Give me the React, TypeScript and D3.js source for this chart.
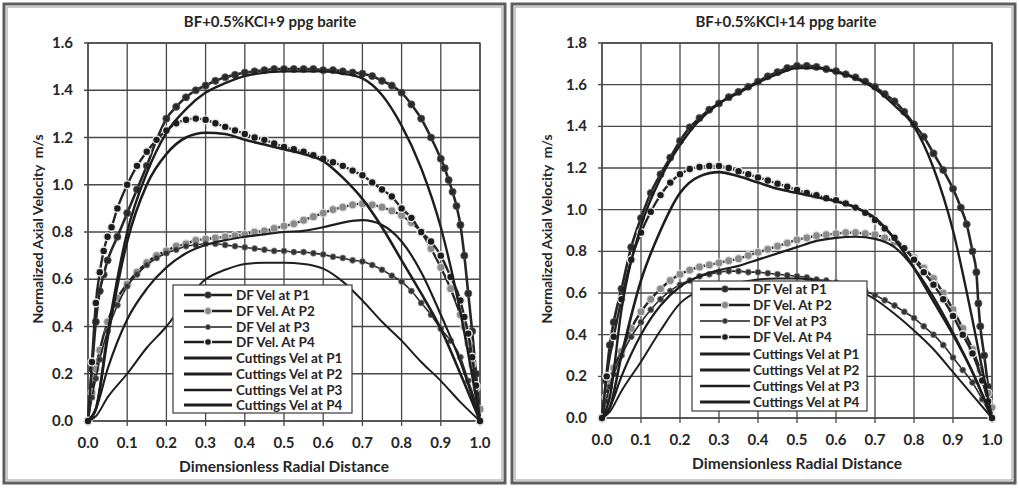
import React from "react";
import * as d3 from "d3";

type P = [number, number];

const X_TICKS = [0, 0.1, 0.2, 0.3, 0.4, 0.5, 0.6, 0.7, 0.8, 0.9, 1.0];
const Y_TICKS_LEFT = [0, 0.2, 0.4, 0.6, 0.8, 1.0, 1.2, 1.4, 1.6];
const Y_TICKS_RIGHT = [0, 0.2, 0.4, 0.6, 0.8, 1.0, 1.2, 1.4, 1.6, 1.8];

const TITLES = ["BF+0.5%KCl+9 ppg barite", "BF+0.5%KCl+14 ppg barite"];
const X_LABEL = "Dimensionless Radial Distance";
const Y_LABEL = "Normalized Axial Velocity\u00A0\u00A0m/s";
const LEGEND = [
  "DF Vel at P1", "DF Vel. At P2", "DF Vel at P3", "DF Vel. At P4",
  "Cuttings Vel at P1", "Cuttings Vel at P2", "Cuttings Vel at P3", "Cuttings Vel at P4",
];

// ---------- Left panel (9 ppg) ----------
const L_DF1: P[] = [[0,0],[0.01,0.22],[0.02,0.42],[0.03,0.55],[0.04,0.62],[0.05,0.68],[0.075,0.78],[0.1,0.88],[0.125,0.98],[0.15,1.08],[0.175,1.19],[0.2,1.28],[0.225,1.33],[0.25,1.37],[0.275,1.4],[0.3,1.42],[0.325,1.44],[0.35,1.455],[0.375,1.465],[0.4,1.475],[0.425,1.48],[0.45,1.485],[0.475,1.49],[0.5,1.49],[0.525,1.49],[0.55,1.49],[0.575,1.49],[0.6,1.485],[0.625,1.485],[0.65,1.48],[0.675,1.475],[0.7,1.47],[0.725,1.46],[0.75,1.44],[0.775,1.42],[0.8,1.39],[0.825,1.34],[0.85,1.28],[0.875,1.2],[0.9,1.11],[0.91,1.07],[0.92,1.02],[0.93,0.97],[0.94,0.91],[0.95,0.83],[0.96,0.7],[0.97,0.54],[0.98,0.38],[0.99,0.2],[1.0,0]];
const L_DF2: P[] = [[0,0],[0.01,0.12],[0.02,0.22],[0.03,0.3],[0.05,0.42],[0.075,0.52],[0.1,0.58],[0.125,0.63],[0.15,0.67],[0.175,0.7],[0.2,0.72],[0.225,0.74],[0.25,0.75],[0.275,0.765],[0.3,0.77],[0.325,0.775],[0.35,0.78],[0.375,0.785],[0.4,0.79],[0.425,0.8],[0.45,0.805],[0.475,0.815],[0.5,0.825],[0.525,0.835],[0.55,0.85],[0.575,0.865],[0.6,0.88],[0.625,0.895],[0.65,0.905],[0.675,0.915],[0.7,0.92],[0.725,0.915],[0.75,0.905],[0.775,0.89],[0.8,0.87],[0.825,0.84],[0.85,0.8],[0.875,0.73],[0.9,0.65],[0.925,0.56],[0.95,0.45],[0.96,0.4],[0.97,0.33],[0.98,0.24],[0.99,0.14],[1.0,0.05]];
const L_DF3: P[] = [[0,0],[0.01,0.1],[0.02,0.18],[0.03,0.26],[0.05,0.38],[0.075,0.49],[0.1,0.57],[0.125,0.62],[0.15,0.66],[0.175,0.69],[0.2,0.71],[0.225,0.725],[0.25,0.74],[0.275,0.745],[0.3,0.75],[0.325,0.75],[0.35,0.745],[0.375,0.74],[0.4,0.735],[0.425,0.73],[0.45,0.725],[0.475,0.72],[0.5,0.72],[0.525,0.715],[0.55,0.715],[0.575,0.71],[0.6,0.705],[0.625,0.695],[0.65,0.69],[0.675,0.68],[0.7,0.675],[0.725,0.66],[0.75,0.64],[0.775,0.615],[0.8,0.59],[0.825,0.55],[0.85,0.5],[0.875,0.45],[0.9,0.39],[0.925,0.34],[0.95,0.27],[0.97,0.17],[0.99,0.07],[1.0,0]];
const L_DF4: P[] = [[0,0],[0.01,0.25],[0.02,0.5],[0.03,0.63],[0.04,0.72],[0.05,0.78],[0.06,0.82],[0.075,0.9],[0.1,1.0],[0.125,1.08],[0.15,1.14],[0.175,1.19],[0.2,1.23],[0.225,1.26],[0.25,1.275],[0.275,1.28],[0.3,1.275],[0.325,1.26],[0.35,1.245],[0.375,1.23],[0.4,1.215],[0.425,1.2],[0.45,1.19],[0.475,1.175],[0.5,1.16],[0.525,1.15],[0.55,1.14],[0.575,1.125],[0.6,1.11],[0.625,1.095],[0.65,1.08],[0.675,1.06],[0.7,1.04],[0.725,1.01],[0.75,0.98],[0.775,0.95],[0.8,0.9],[0.825,0.86],[0.85,0.8],[0.875,0.76],[0.9,0.7],[0.925,0.61],[0.95,0.51],[0.96,0.44],[0.97,0.37],[0.98,0.27],[0.99,0.15],[1.0,0]];
const L_C1: P[] = [[0,0],[0.02,0.05],[0.05,0.37],[0.1,0.8],[0.15,1.05],[0.2,1.22],[0.25,1.32],[0.3,1.39],[0.35,1.43],[0.4,1.46],[0.5,1.48],[0.6,1.48],[0.65,1.47],[0.7,1.45],[0.75,1.38],[0.8,1.25],[0.85,1.07],[0.9,0.82],[0.95,0.46],[1.0,0]];
const L_C2: P[] = [[0,0],[0.02,0.05],[0.05,0.22],[0.1,0.43],[0.15,0.56],[0.2,0.65],[0.25,0.71],[0.3,0.745],[0.35,0.765],[0.4,0.78],[0.45,0.79],[0.5,0.8],[0.55,0.805],[0.6,0.82],[0.65,0.84],[0.7,0.85],[0.75,0.83],[0.8,0.76],[0.85,0.63],[0.9,0.45],[0.95,0.25],[1.0,0]];
const L_C3: P[] = [[0,0],[0.02,0.02],[0.05,0.1],[0.1,0.2],[0.15,0.31],[0.2,0.4],[0.25,0.51],[0.3,0.6],[0.35,0.64],[0.4,0.665],[0.45,0.67],[0.5,0.67],[0.55,0.665],[0.6,0.645],[0.65,0.59],[0.7,0.51],[0.75,0.42],[0.8,0.34],[0.85,0.25],[0.9,0.17],[0.95,0.08],[1.0,0]];
const L_C4: P[] = [[0,0],[0.02,0.05],[0.05,0.35],[0.1,0.76],[0.15,1.0],[0.2,1.13],[0.25,1.2],[0.3,1.22],[0.35,1.215],[0.4,1.19],[0.45,1.17],[0.5,1.15],[0.55,1.13],[0.6,1.1],[0.65,1.03],[0.7,0.94],[0.75,0.82],[0.8,0.68],[0.85,0.54],[0.9,0.39],[0.95,0.2],[1.0,0]];

// ---------- Right panel (14 ppg) ----------
const R_DF1: P[] = [[0,0],[0.01,0.18],[0.02,0.35],[0.03,0.46],[0.05,0.62],[0.075,0.82],[0.1,0.96],[0.125,1.08],[0.15,1.17],[0.175,1.25],[0.2,1.33],[0.225,1.395],[0.25,1.44],[0.275,1.48],[0.3,1.51],[0.325,1.54],[0.35,1.565],[0.375,1.59],[0.4,1.615],[0.425,1.64],[0.45,1.66],[0.475,1.68],[0.5,1.69],[0.525,1.69],[0.55,1.685],[0.575,1.675],[0.6,1.665],[0.625,1.65],[0.65,1.635],[0.675,1.615],[0.7,1.59],[0.725,1.555],[0.75,1.52],[0.775,1.47],[0.8,1.41],[0.825,1.35],[0.85,1.27],[0.875,1.19],[0.9,1.1],[0.92,1.01],[0.935,0.93],[0.95,0.8],[0.96,0.7],[0.965,0.55],[0.97,0.44],[0.98,0.3],[0.99,0.15],[1.0,0]];
const R_DF2: P[] = [[0,0],[0.01,0.1],[0.02,0.18],[0.03,0.24],[0.05,0.32],[0.075,0.43],[0.1,0.51],[0.125,0.57],[0.15,0.62],[0.175,0.66],[0.2,0.69],[0.225,0.71],[0.25,0.725],[0.275,0.735],[0.3,0.745],[0.325,0.755],[0.35,0.765],[0.375,0.78],[0.4,0.795],[0.425,0.81],[0.45,0.825],[0.475,0.84],[0.5,0.855],[0.525,0.865],[0.55,0.875],[0.575,0.88],[0.6,0.885],[0.625,0.89],[0.65,0.89],[0.675,0.885],[0.7,0.88],[0.725,0.865],[0.75,0.845],[0.775,0.81],[0.8,0.77],[0.825,0.72],[0.85,0.67],[0.875,0.6],[0.9,0.52],[0.925,0.43],[0.95,0.33],[0.97,0.23],[0.99,0.12],[1.0,0.05]];
const R_DF3: P[] = [[0,0],[0.01,0.08],[0.02,0.15],[0.03,0.21],[0.05,0.3],[0.075,0.39],[0.1,0.46],[0.125,0.52],[0.15,0.57],[0.175,0.61],[0.2,0.64],[0.225,0.66],[0.25,0.68],[0.275,0.69],[0.3,0.7],[0.325,0.705],[0.35,0.705],[0.375,0.7],[0.4,0.7],[0.425,0.695],[0.45,0.69],[0.475,0.685],[0.5,0.68],[0.525,0.675],[0.55,0.665],[0.575,0.66],[0.6,0.65],[0.625,0.64],[0.65,0.625],[0.675,0.61],[0.7,0.59],[0.725,0.565],[0.75,0.54],[0.775,0.51],[0.8,0.48],[0.825,0.44],[0.85,0.4],[0.875,0.35],[0.9,0.29],[0.925,0.23],[0.95,0.17],[0.975,0.09],[1.0,0]];
const R_DF4: P[] = [[0,0],[0.012,0.2],[0.03,0.39],[0.05,0.57],[0.075,0.76],[0.1,0.89],[0.125,0.99],[0.15,1.07],[0.175,1.13],[0.2,1.17],[0.225,1.195],[0.25,1.205],[0.275,1.21],[0.3,1.21],[0.325,1.2],[0.35,1.185],[0.375,1.17],[0.4,1.155],[0.425,1.14],[0.45,1.125],[0.475,1.11],[0.5,1.095],[0.525,1.08],[0.55,1.07],[0.575,1.055],[0.6,1.045],[0.625,1.03],[0.65,1.01],[0.675,0.985],[0.7,0.95],[0.725,0.91],[0.75,0.865],[0.775,0.815],[0.8,0.76],[0.825,0.7],[0.85,0.64],[0.875,0.57],[0.9,0.49],[0.925,0.4],[0.95,0.31],[0.975,0.18],[0.99,0.08],[1.0,0]];
const R_C1: P[] = [[0,0],[0.02,0.1],[0.05,0.52],[0.1,0.92],[0.15,1.15],[0.2,1.31],[0.25,1.43],[0.3,1.51],[0.35,1.56],[0.4,1.61],[0.45,1.65],[0.5,1.68],[0.55,1.68],[0.6,1.66],[0.65,1.63],[0.7,1.58],[0.75,1.5],[0.8,1.4],[0.85,1.2],[0.9,0.9],[0.95,0.47],[1.0,0]];
const R_C2: P[] = [[0,0],[0.02,0.05],[0.05,0.2],[0.1,0.4],[0.15,0.54],[0.2,0.63],[0.25,0.68],[0.3,0.71],[0.35,0.73],[0.4,0.76],[0.45,0.79],[0.5,0.82],[0.55,0.85],[0.6,0.865],[0.65,0.87],[0.7,0.86],[0.75,0.82],[0.8,0.72],[0.85,0.58],[0.9,0.41],[0.95,0.22],[1.0,0]];
const R_C3: P[] = [[0,0],[0.02,0.03],[0.05,0.13],[0.1,0.27],[0.15,0.42],[0.2,0.55],[0.25,0.61],[0.3,0.63],[0.35,0.65],[0.4,0.665],[0.45,0.67],[0.5,0.67],[0.55,0.66],[0.6,0.65],[0.65,0.62],[0.7,0.57],[0.75,0.5],[0.8,0.42],[0.85,0.33],[0.9,0.22],[0.95,0.11],[1.0,0]];
const R_C4: P[] = [[0,0],[0.02,0.05],[0.05,0.3],[0.1,0.66],[0.15,0.9],[0.2,1.08],[0.25,1.16],[0.3,1.18],[0.35,1.16],[0.4,1.13],[0.45,1.1],[0.5,1.08],[0.55,1.06],[0.6,1.04],[0.65,1.01],[0.7,0.96],[0.75,0.86],[0.8,0.72],[0.85,0.56],[0.9,0.4],[0.95,0.22],[1.0,0]];

const FONT = "Lato, 'Open Sans', sans-serif";
const INK = "#262626";

// marker styles for the four DF series
const MARKERS = [
  { r: 3.6, fill: "#2a2a2a", stroke: "#5a5a5a", sw: 0.8, lw: 2.6 },
  { r: 3.9, fill: "#8a8a8a", stroke: "#d8d8d8", sw: 1.1, lw: 2.4 },
  { r: 3.0, fill: "#333", stroke: "#808080", sw: 0.8, lw: 1.6 },
  { r: 3.9, fill: "#1c1c1c", stroke: "#e8e8e8", sw: 1.4, lw: 2.4 },
];
const CUT_WIDTH = [2.4, 2.2, 2.0, 2.6];

interface PanelProps {
  frame: [number, number, number, number];
  plot: [number, number, number, number]; // x0, x1, yTop, yBottom
  yMax: number;
  yTicks: number[];
  title: string;
  titleX: number;
  yLabelX: number;
  df: P[][];
  cut: P[][];
  legend: { x: number; y: number; w: number; h: number; rows: number[]; lx0: number; lx1: number; tx: number };
}

function Panel(props: PanelProps) {
  const { frame, plot, yMax, yTicks, title, titleX, yLabelX, df, cut, legend } = props;
  const [x0, x1, yT, yB] = plot;
  const xs = d3.scaleLinear().domain([0, 1]).range([x0, x1]);
  const ys = d3.scaleLinear().domain([0, yMax]).range([yB, yT]);
  const line = d3
    .line<P>()
    .x((d) => xs(d[0]))
    .y((d) => ys(d[1]))
    .curve(d3.curveMonotoneX);
  const [fx, fy, fw, fh] = frame;
  const clipId = "clip" + fx;
  return (
    <g>
      <rect x={fx} y={fy} width={fw} height={fh} fill="#fff" stroke="#5e5e5e" strokeWidth={3} />
      <rect x={fx + 3} y={fy + 3} width={fw - 6} height={fh - 6} fill="none" stroke="#9a9a9a" strokeWidth={1} />
      <defs>
        <clipPath id={clipId}>
          <rect x={x0 - 6} y={yT - 6} width={x1 - x0 + 12} height={yB - yT + 12} />
        </clipPath>
      </defs>
      <text x={titleX} y={27} textAnchor="middle" fontFamily={FONT} fontWeight={700} fontSize={15} fill={INK}>
        {title}
      </text>
      {/* grid */}
      {X_TICKS.map((t) => (
        <line key={"gx" + t} x1={xs(t)} x2={xs(t)} y1={yT} y2={yB + 5} stroke="#474747" strokeWidth={1.3} />
      ))}
      {yTicks.map((t) => (
        <line key={"gy" + t} x1={x0 - 4} x2={x1} y1={ys(t)} y2={ys(t)} stroke="#474747" strokeWidth={1.3} />
      ))}
      <rect x={x0} y={yT} width={x1 - x0} height={yB - yT} fill="none" stroke="#474747" strokeWidth={1.3} />
      {/* tick labels */}
      {X_TICKS.map((t) => (
        <text key={"tx" + t} x={xs(t)} y={yB + 27} textAnchor="middle" fontFamily={FONT} fontWeight={700} fontSize={15} fill={INK}>
          {t.toFixed(1)}
        </text>
      ))}
      {yTicks.map((t) => (
        <text key={"ty" + t} x={x0 - 15} y={ys(t) + 5} textAnchor="end" fontFamily={FONT} fontWeight={700} fontSize={15} fill={INK}>
          {t.toFixed(1)}
        </text>
      ))}
      <text x={(x0 + x1) / 2} y={yB + 51} textAnchor="middle" fontFamily={FONT} fontWeight={700} fontSize={15.5} fill={INK}>
        {X_LABEL}
      </text>
      <text
        transform={`translate(${yLabelX + 5},229) rotate(-90)`}
        textAnchor="middle"
        fontFamily={FONT}
        fontWeight={700}
        fontSize={14}
        fill={INK}
      >
        {Y_LABEL}
      </text>
      {/* series */}
      <g clipPath={`url(#${clipId})`}>
        {df.map((s, i) => (
          <g key={"df" + i}>
            <path d={line(s) || ""} fill="none" stroke={INK} strokeWidth={MARKERS[i].lw} />
            {s.map((d, j) => (
              <circle key={j} cx={xs(d[0])} cy={ys(d[1])} r={MARKERS[i].r} fill={MARKERS[i].fill} stroke={MARKERS[i].stroke} strokeWidth={MARKERS[i].sw} />
            ))}
          </g>
        ))}
        {cut.map((s, i) => (
          <path key={"c" + i} d={line(s) || ""} fill="none" stroke="#1e1e1e" strokeWidth={CUT_WIDTH[i]} />
        ))}
      </g>
      {/* legend */}
      <rect x={legend.x} y={legend.y} width={legend.w} height={legend.h} fill="#fff" stroke="#3a3a3a" strokeWidth={1.2} />
      {LEGEND.map((name, i) => {
        const yy = legend.rows[i];
        const mid = (legend.lx0 + legend.lx1) / 2;
        const m = i < 4 ? MARKERS[i] : null;
        return (
          <g key={"lg" + i}>
            <line x1={legend.lx0} x2={legend.lx1} y1={yy} y2={yy} stroke="#1e1e1e" strokeWidth={m ? m.lw : CUT_WIDTH[i - 4] + 0.6} />
            {m && <circle cx={mid} cy={yy} r={m.r - 0.4} fill={m.fill} stroke={m.stroke} strokeWidth={m.sw} />}
            <text x={legend.tx} y={yy + 5} fontFamily={FONT} fontWeight={700} fontSize={13.5} fill={INK}>
              {name}
            </text>
          </g>
        );
      })}
    </g>
  );
}

export default function App() {
  return (
    <svg width={1019} height={489} style={{ position: "absolute", left: 0, top: 0, background: "#fff" }}>
      <Panel
        frame={[4, 4, 501, 479]}
        plot={[88, 480, 43, 421]}
        yMax={1.6}
        yTicks={Y_TICKS_LEFT}
        title={TITLES[0]}
        titleX={270}
        yLabelX={38}
        df={[L_DF1, L_DF2, L_DF3, L_DF4]}
        cut={[L_C1, L_C2, L_C3, L_C4]}
        legend={{ x: 173, y: 285, w: 179, h: 128, rows: [295, 311, 327, 342, 358, 374, 390, 405], lx0: 184, lx1: 232, tx: 236 }}
      />
      <Panel
        frame={[512, 4, 503, 479]}
        plot={[602, 992, 43, 418]}
        yMax={1.8}
        yTicks={Y_TICKS_RIGHT}
        title={TITLES[1]}
        titleX={786}
        yLabelX={547}
        df={[R_DF1, R_DF2, R_DF3, R_DF4]}
        cut={[R_C1, R_C2, R_C3, R_C4]}
        legend={{ x: 692, y: 281, w: 175, h: 130, rows: [289, 305, 321, 337, 354, 370, 386, 402], lx0: 700, lx1: 750, tx: 753 }}
      />
    </svg>
  );
}
